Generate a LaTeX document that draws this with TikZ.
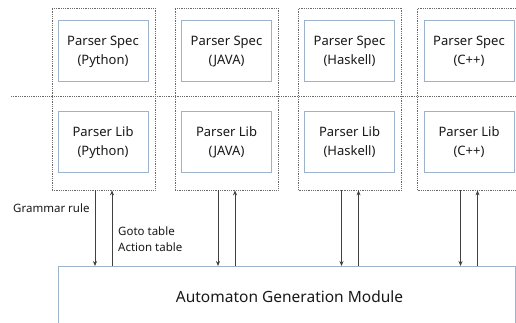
\documentclass[tikz,border=0pt]{standalone}
\usepackage{fontspec}
\setmainfont{Noto Sans}
\usetikzlibrary{arrows.meta,calc}
\definecolor{boxline}{HTML}{9DB3CB}
\definecolor{dotline}{HTML}{6A6A6A}
\definecolor{arrline}{HTML}{404040}
\tikzset{
  column/.style={draw=dotline,densely dotted,line width=0.8pt,minimum width=103pt,minimum height=182pt,inner sep=0pt},
  inner/.style={draw=boxline,line width=1pt,minimum width=90pt,minimum height=61pt,inner sep=0pt,align=center,font=\fontsize{13}{19}\selectfont,text=black!90},
  arr/.style={draw=arrline,line width=0.7pt,-{Stealth[length=5pt,width=4pt]}},
  lbl/.style={font=\fontsize{11.5}{16}\selectfont,text=black!90,inner sep=0pt,align=left}
}
\begin{document}
\begin{tikzpicture}[x=1pt,y=-1pt]
\useasboundingbox (0,0) rectangle (516,323);
\clip (0,0) rectangle (516,323);
% dotted language columns
\node[column] (c1) at (103.5,99) {};
\node[column] (c2) at (226.5,99) {};
\node[column] (c3) at (350,99) {};
\node[column] (c4) at (469,99) {};
% separator between spec and lib rows
\coordinate (sepL) at (11,96);
\coordinate (sepR) at (516,96);
\draw[dotline,densely dotted,line width=0.8pt] (sepL) -- (sepR);
% spec boxes
\node[inner,fill=white] (s1) at (103,51.5) {Parser Spec\\(Python)};
\node[inner,fill=white] (s2) at (226.5,51.5) {Parser Spec\\(JAVA)};
\node[inner,fill=white] (s3) at (349.5,51.5) {Parser Spec\\(Haskell)};
\node[inner,fill=white] (s4) at (469,51.5) {Parser Spec\\(C++)};
% lib boxes
\node[inner,fill=white] (l1) at (103,142.5) {Parser Lib\\(Python)};
\node[inner,fill=white] (l2) at (226.5,142.5) {Parser Lib\\(JAVA)};
\node[inner,fill=white] (l3) at (349.5,142.5) {Parser Lib\\(Haskell)};
\node[inner,fill=white] (l4) at (469,142.5) {Parser Lib\\(C++)};
% generator module
\node[draw=boxline,line width=1pt,minimum width=457pt,minimum height=80pt,inner sep=0pt,anchor=north west] (gen) at (58,266) {};
\node[font=\fontsize{15.5}{18}\selectfont,text=black!90] (gent) at (289.5,297) {Automaton Generation Module};
% grammar rule down, tables up
\foreach \c in {c1,c2,c3,c4}{
  \draw[arr] ([xshift=-8.5pt]\c.south) -- ([xshift=-8.5pt]\c.south |- gen.north);
  \draw[arr] ([xshift=8.5pt]\c.south |- gen.north) -- ([xshift=8.5pt]\c.south);
}
\node[lbl,anchor=west] (gr) at (13,208) {Grammar rule};
\node[lbl,anchor=west] (gt) at (118,239) {Goto table\\Action table};
\end{tikzpicture}
\end{document}
